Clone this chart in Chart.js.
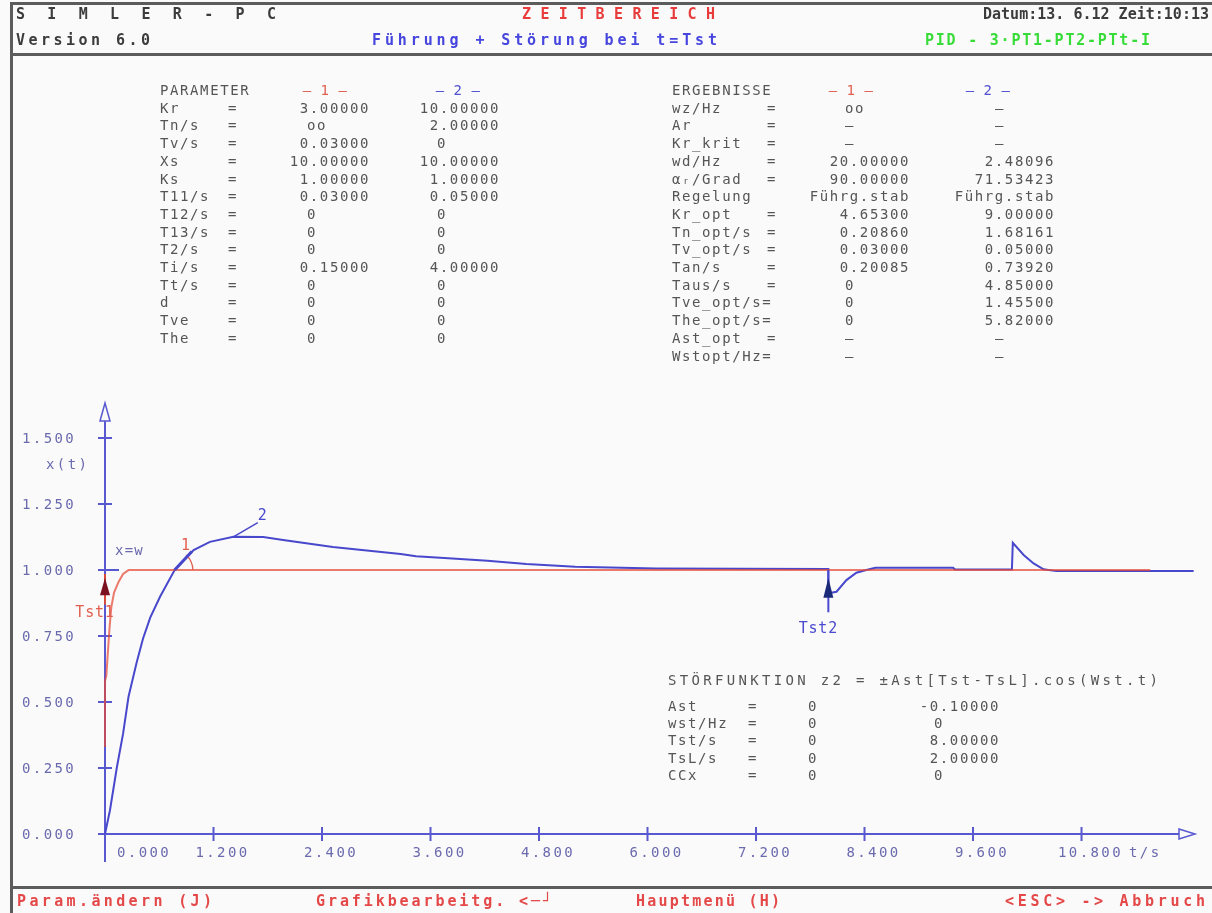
<!DOCTYPE html>
<html>
<head>
<meta charset="utf-8">
<script src="https://cdn.jsdelivr.net/npm/chart.js@4"></script>
<style>
    html, body { margin: 0; padding: 0; background: #fafafa; }
    #wrap { position: relative; width: 1212px; height: 913px; overflow: hidden; }
    #plot, #txt { position: absolute; left: 0; top: 0; }
    #txt text { white-space: pre; }
</style>
</head>
<body>
<div id="wrap">
    <canvas id="plot" width="1212" height="913"></canvas>
    <svg id="txt" width="1212" height="913"></svg>
</div>
<script>
// curve 1 (red) and curve 2 (blue): time in s, x(t)
const t1 = [0, 0, 0.015, 0.03, 0.05, 0.07, 0.1, 0.15, 0.2, 0.26, 11.56];
const x1 = [0.33, 0.58, 0.6, 0.68, 0.78, 0.86, 0.915, 0.955, 0.985, 1.0, 1.0];
const t2 = [0, 0.055, 0.13, 0.2, 0.26, 0.35, 0.42, 0.5, 0.61, 0.77, 0.98, 1.16, 1.42, 1.75, 1.97, 2.52,
    3.27, 3.44, 3.84, 4.23, 4.66, 5.2, 6.1, 8.0, 8.0, 8.09, 8.2, 8.31, 8.42, 8.52, 9.38, 9.4,
    10.03, 10.04, 10.16, 10.27, 10.38, 10.52, 12.04];
const x2 = [0, 0.09, 0.25, 0.38, 0.52, 0.65, 0.74, 0.82, 0.9, 1.0, 1.076, 1.107, 1.126, 1.125, 1.114, 1.087,
    1.061, 1.052, 1.044, 1.035, 1.023, 1.013, 1.006, 1.004, 0.912, 0.918, 0.962, 0.99, 1.0, 1.009, 1.009, 1.002,
    1.002, 1.103, 1.057, 1.025, 1.003, 0.996, 0.996];

const xTicks = [0, 1.2, 2.4, 3.6, 4.8, 6.0, 7.2, 8.4, 9.6, 10.8];
const xTickLabels = ['0.000', '1.200', '2.400', '3.600', '4.800', '6.000', '7.200', '8.400', '9.600', '10.800'];
const yTicks = [0, 0.25, 0.5, 0.75, 1.0, 1.25, 1.5];
const yTickLabels = ['0.000', '0.250', '0.500', '0.750', '1.000', '1.250', '1.500'];
const tstTimes = [0, 8];
const tstNames = ['Tst1', 'Tst2'];

// parameter / result tables
const paramNames = ['Kr', 'Tn/s', 'Tv/s', 'Xs', 'Ks', 'T11/s', 'T12/s', 'T13/s', 'T2/s', 'Ti/s', 'Tt/s', 'd', 'Tve', 'The'];
const param1 = ['3.00000', 'oo', '0.03000', '10.00000', '1.00000', '0.03000', '0', '0', '0', '0.15000', '0', '0', '0', '0'];
const param2 = ['10.00000', '2.00000', '0', '10.00000', '1.00000', '0.05000', '0', '0', '0', '4.00000', '0', '0', '0', '0'];
const resultNames = ['wz/Hz', 'Ar', 'Kr_krit', 'wd/Hz', 'αᵣ/Grad', 'Regelung', 'Kr_opt', 'Tn_opt/s', 'Tv_opt/s',
    'Tan/s', 'Taus/s', 'Tve_opt/s=', 'The_opt/s=', 'Ast_opt', 'Wstopt/Hz='];
const result1 = ['oo', '–', '–', '20.00000', '90.00000', 'Führg.stab', '4.65300', '0.20860', '0.03000', '0.20085',
    '0', '0', '0', '–', '–'];
const result2 = ['–', '–', '–', '2.48096', '71.53423', 'Führg.stab', '9.00000', '1.68161', '0.05000', '0.73920',
    '4.85000', '1.45500', '5.82000', '–', '–'];
const distNames = ['Ast', 'wst/Hz', 'Tst/s', 'TsL/s', 'CCx'];
const dist1 = ['0', '0', '0', '0', '0'];
const dist2 = ['-0.10000', '0', '8.00000', '2.00000', '0'];

const BLUE = '#4848cc';
const RED = 'rgba(228,72,52,0.72)';
const AXIS = '#5858d0';
const LABEL = '#6a6aae';
const GREY = '#555555';
const MONO = "'DejaVu Sans Mono', monospace";

const svg = document.getElementById('txt');
function addText(s, x, y, o = {}) {
    const el = document.createElementNS('http://www.w3.org/2000/svg', 'text');
    el.setAttribute('x', x);
    el.setAttribute('y', y);
    el.setAttribute('dominant-baseline', 'central');
    el.setAttribute('text-anchor', o.anchor || 'start');
    el.setAttribute('fill', o.color || GREY);
    el.setAttribute('font-family', MONO);
    el.setAttribute('font-size', o.size || 14);
    if (o.bold) el.setAttribute('font-weight', 'bold');
    if (o.width) {
        el.setAttribute('textLength', o.width);
        el.setAttribute('lengthAdjust', o.adjust || 'spacing');
    } else {
        el.setAttribute('letter-spacing', o.spacing ?? 1.6);
    }
    el.textContent = s;
    svg.appendChild(el);
}

const isShort = v => v.length <= 2;

const frameAxes = {
    id: 'frameAxes',
    beforeDraw(chart) {
        const ctx = chart.ctx;
        ctx.save();
        ctx.fillStyle = '#fafafa';
        ctx.fillRect(0, 0, chart.width, chart.height);
        ctx.fillStyle = '#5c5c5c';
        ctx.fillRect(10, 2, 1202, 3);
        ctx.fillRect(10, 2, 3, 911);
        ctx.fillRect(10, 53, 1202, 3);
        ctx.fillRect(10, 886, 1202, 3);
        ctx.restore();
    },
    beforeDatasetsDraw(chart) {
        const { ctx, scales: { x, y } } = chart;
        const x0 = x.getPixelForValue(0), y0 = y.getPixelForValue(0);
        ctx.save();
        ctx.strokeStyle = AXIS;
        ctx.lineWidth = 2;
        ctx.beginPath();
        ctx.moveTo(x0 - 7, y0); ctx.lineTo(x.right - 16, y0);
        ctx.moveTo(x0, y0 + 28); ctx.lineTo(x0, y.top + 18);
        xTicks.forEach(v => {
            if (v === 0) return;
            const px = x.getPixelForValue(v);
            ctx.moveTo(px, y0 - 7); ctx.lineTo(px, y0 + 7);
        });
        yTicks.forEach(v => {
            if (v === 0) return;
            const py = y.getPixelForValue(v);
            ctx.moveTo(x0 - 7, py); ctx.lineTo(x0 + (v === 1 ? 14 : 7), py);
        });
        ctx.stroke();
        // outlined arrow heads
        ctx.lineWidth = 1.5;
        ctx.beginPath();
        ctx.moveTo(x.right - 16, y0 - 5); ctx.lineTo(x.right, y0); ctx.lineTo(x.right - 16, y0 + 5); ctx.closePath();
        ctx.moveTo(x0 - 5, y.top + 18); ctx.lineTo(x0, y.top); ctx.lineTo(x0 + 5, y.top + 18); ctx.closePath();
        ctx.stroke();
        ctx.restore();
    },
    afterDatasetsDraw(chart) {
        const { ctx, scales: { x, y } } = chart;
        ctx.save();
        // Tst markers
        tstTimes.forEach((t, i) => {
            const px = x.getPixelForValue(t);
            const col = i === 0 ? '#d84a3a' : '#4a4ad0';
            const dark = i === 0 ? '#7a1020' : '#1a2a78';
            ctx.strokeStyle = col;
            ctx.lineWidth = 2;
            ctx.beginPath();
            ctx.moveTo(px, y.getPixelForValue(i === 0 ? 0.985 : 1.0));
            ctx.lineTo(px, y.getPixelForValue(i === 0 ? 0.87 : 0.84));
            ctx.stroke();
            const tip = y.getPixelForValue(0.97);
            const base = y.getPixelForValue(i === 0 ? 0.905 : 0.895);
            ctx.fillStyle = dark;
            ctx.beginPath();
            ctx.moveTo(px, tip); ctx.lineTo(px - 5, base); ctx.lineTo(px + 5, base); ctx.closePath();
            ctx.fill();
        });
        // angle arc at curve 1 label
        const cx = x.getPixelForValue(0.75), cy = y.getPixelForValue(1.0);
        ctx.strokeStyle = '#e06050';
        ctx.lineWidth = 1.3;
        ctx.beginPath();
        ctx.arc(cx, cy, 20, -Math.PI * 0.27, 0);
        ctx.stroke();
        // tangent on curve 2
        ctx.strokeStyle = BLUE;
        ctx.lineWidth = 3;
        ctx.beginPath();
        ctx.moveTo(x.getPixelForValue(0.77), y.getPixelForValue(1.0));
        ctx.lineTo(x.getPixelForValue(0.96), y.getPixelForValue(1.07));
        ctx.stroke();
        // leader to label 2
        ctx.lineWidth = 1.5;
        ctx.beginPath();
        ctx.moveTo(x.getPixelForValue(1.42), y.getPixelForValue(1.126));
        ctx.lineTo(x.getPixelForValue(1.69), y.getPixelForValue(1.18));
        ctx.stroke();
        ctx.restore();
    }
};

const chart = new Chart(document.getElementById('plot'), {
    type: 'scatter',
    data: {
        datasets: [
            {
                data: t1.map((t, i) => ({ x: t, y: x1[i] })),
                showLine: true, borderColor: RED, borderWidth: 2, pointRadius: 0, clip: 20
            },
            {
                data: t2.map((t, i) => ({ x: t, y: x2[i] })),
                showLine: true, borderColor: BLUE, borderWidth: 2, pointRadius: 0, clip: 20
            }
        ]
    },
    options: {
        responsive: false,
        animation: false,
        events: [],
        layout: { padding: { left: 105, right: 17, top: 403, bottom: 79 } },
        plugins: { legend: { display: false }, tooltip: { enabled: false } },
        scales: {
            x: { type: 'linear', min: 0, max: 12.055, display: false },
            y: { type: 'linear', min: 0, max: 1.633, display: false }
        }
    },
    plugins: [frameAxes]
});

// tick labels and plot annotations, placed through the chart scales
const sx = chart.scales.x, sy = chart.scales.y;
xTicks.forEach((v, i) => {
    const px = sx.getPixelForValue(v);
    if (v === 0) addText(xTickLabels[i], px + 12, 852, { color: LABEL, spacing: 2.4 });
    else addText(xTickLabels[i], px + 9, 852, { color: LABEL, anchor: 'middle', spacing: 2.4 });
});
addText('t/s', 1129, 852, { color: LABEL, spacing: 2.4 });
yTicks.forEach((v, i) => addText(yTickLabels[i], 22, sy.getPixelForValue(v), { color: LABEL, spacing: 2.4 }));
addText('x(t)', 46, 464, { color: LABEL, spacing: 2.4 });
addText('x=w', sx.getPixelForValue(0) + 10, sy.getPixelForValue(1.0) - 20, { color: LABEL, spacing: 1.2 });
addText('1', sx.getPixelForValue(0.84), sy.getPixelForValue(1.095), { color: '#e06050', size: 15 });
addText('2', sx.getPixelForValue(1.69), sy.getPixelForValue(1.21), { color: BLUE, size: 15 });
tstTimes.forEach((t, i) => {
    const px = sx.getPixelForValue(t);
    addText(tstNames[i], px - 10, sy.getPixelForValue(i === 0 ? 0.84 : 0.78), {
        color: i === 0 ? '#e06050' : '#4a4ad0', anchor: 'middle', size: 15, spacing: 0.8
    });
});

// header and footer
const HEAD = { bold: true, size: 15 };
addText('S I M L E R - P C', 16, 14, { ...HEAD, color: '#3c3c3c', width: 260 });
addText('Z E I T B E R E I C H', 522, 14, { ...HEAD, color: '#e83c3c', width: 193 });
addText('Datum:13. 6.12 Zeit:10:13', 983, 14, { ...HEAD, color: '#3c3c3c', width: 226 });
addText('Version 6.0', 16, 40, { ...HEAD, color: '#3c3c3c', width: 134 });
addText('Führung + Störung bei t=Tst', 372, 40, { ...HEAD, color: '#4646de', width: 345 });
addText('PID - 3·PT1-PT2-PTt-I', 925, 40, { ...HEAD, color: '#38dc38', width: 225 });
addText('Param.ändern (J)', 17, 901, { ...HEAD, color: '#e44848', width: 195 });
addText('Grafikbearbeitg. <─┘', 316, 901, { ...HEAD, color: '#e44848', width: 236 });
addText('Hauptmenü (H)', 636, 901, { ...HEAD, color: '#e44848', width: 144 });
addText('<ESC> -> Abbruch', 1005, 901, { ...HEAD, color: '#e44848', width: 200 });

// PARAMETER table
const rowY = i => 90 + 17.7 * i;
addText('PARAMETER', 160, rowY(0));
addText('— 1 —', 325, rowY(0), { color: '#e06050', anchor: 'middle', spacing: 0.5 });
addText('— 2 —', 458, rowY(0), { color: '#5050d0', anchor: 'middle', spacing: 0.5 });
paramNames.forEach((n, i) => {
    const yy = rowY(i + 1);
    addText(n, 160, yy);
    addText('=', 233, yy, { anchor: 'middle' });
    const a = param1[i], b = param2[i];
    addText(a, isShort(a) ? 307 : 370, yy, { anchor: isShort(a) ? 'start' : 'end' });
    addText(b, isShort(b) ? 437 : 500, yy, { anchor: isShort(b) ? 'start' : 'end' });
});

// ERGEBNISSE table
addText('ERGEBNISSE', 672, rowY(0));
addText('— 1 —', 851, rowY(0), { color: '#e06050', anchor: 'middle', spacing: 0.5 });
addText('— 2 —', 988, rowY(0), { color: '#5050d0', anchor: 'middle', spacing: 0.5 });
resultNames.forEach((n, i) => {
    const yy = rowY(i + 1);
    addText(n, 672, yy);
    if (!n.endsWith('=') && n !== 'Regelung') addText('=', 772, yy, { anchor: 'middle' });
    const a = result1[i], b = result2[i];
    addText(a, isShort(a) ? 845 : 910, yy, { anchor: isShort(a) ? 'start' : 'end' });
    addText(b, isShort(b) ? 995 : 1055, yy, { anchor: isShort(b) ? 'start' : 'end' });
});

// disturbance function block
addText('STÖRFUNKTION z2 = ±Ast[Tst-TsL].cos(Wst.t)', 668, 680, { width: 490 });
distNames.forEach((n, i) => {
    const yy = 706 + 17.2 * i;
    addText(n, 668, yy);
    addText('=', 753, yy, { anchor: 'middle' });
    addText(dist1[i], 808, yy);
    const b = dist2[i];
    addText(b, isShort(b) ? 934 : 1000, yy, { anchor: isShort(b) ? 'start' : 'end' });
});
</script>
</body>
</html>
